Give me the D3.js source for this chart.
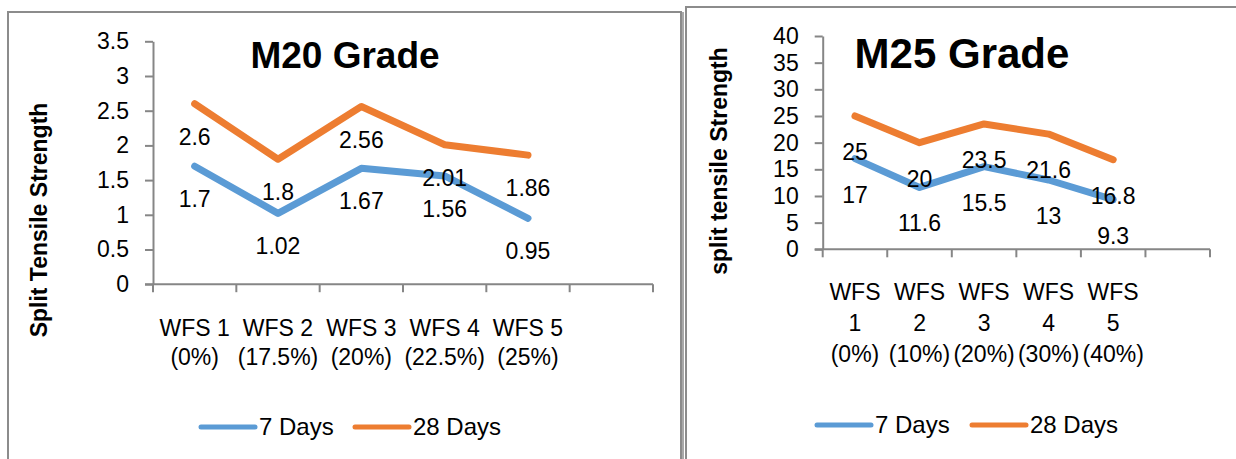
<!DOCTYPE html>
<html>
<head>
<meta charset="utf-8">
<script src="https://cdn.jsdelivr.net/npm/d3@7"></script>
<style>
  body { margin: 0; background: #ffffff; }
  text { font-family: "Liberation Sans", Arial, sans-serif; fill: #000; }
</style>
</head>
<body>
<script>
// data
var m20Labels = [["WFS 1", "(0%)"], ["WFS 2", "(17.5%)"], ["WFS 3", "(20%)"], ["WFS 4", "(22.5%)"], ["WFS 5", "(25%)"]];
var m20Days7 = [1.7, 1.02, 1.67, 1.56, 0.95];
var m20Days28 = [2.6, 1.8, 2.56, 2.01, 1.86];
var m20Ticks = [0, 0.5, 1, 1.5, 2, 2.5, 3, 3.5];

var m25Labels = [["WFS", "1", "(0%)"], ["WFS", "2", "(10%)"], ["WFS", "3", "(20%)"], ["WFS", "4", "(30%)"], ["WFS", "5", "(40%)"]];
var m25Days7 = [17, 11.6, 15.5, 13, 9.3];
var m25Days28 = [25, 20, 23.5, 21.6, 16.8];
var m25Ticks = [0, 5, 10, 15, 20, 25, 30, 35, 40];

var seriesNames = ["7 Days", "28 Days"];
var colors = ["#5b9bd5", "#ed7d31"];

var svg = d3.select("body").append("svg")
  .attr("width", 1236)
  .attr("height", 459);

//外框
svg.append("rect").attr("x", 8).attr("y", 12).attr("width", 673).attr("height", 470)
  .attr("fill", "#fff").attr("stroke", "#8c8c8c").attr("stroke-width", 2);
svg.append("rect").attr("x", 686).attr("y", 7).attr("width", 560).attr("height", 470)
  .attr("fill", "#fff").attr("stroke", "#8c8c8c").attr("stroke-width", 2);
svg.append("line").attr("x1", 683).attr("y1", 12).attr("x2", 683).attr("y2", 459)
  .attr("stroke", "#8c8c8c").attr("stroke-width", 1.5);

function drawChart(c) {
  var g = svg.append("g");
  var x = d3.scaleBand().domain(d3.range(6)).range([c.x0, c.x1]).padding(0);
  var y = d3.scaleLinear().domain([0, c.max]).range([c.yBot, c.yTop]);

  //y轴
  var yAxis = g.append("g")
    .attr("transform", "translate(" + c.x0 + ",0)")
    .call(d3.axisLeft(y).tickValues(c.ticks).tickSize(8).tickSizeOuter(0).tickPadding(16)
      .tickFormat(function (d) { return String(d); }));
  yAxis.select(".domain").attr("stroke", "#868686").attr("stroke-width", 2);
  yAxis.selectAll(".tick line").attr("stroke", "#868686").attr("stroke-width", 2);
  yAxis.selectAll(".tick text").style("font-size", "23px").style("font-family", "Liberation Sans, Arial, sans-serif").attr("fill", "#000");

  //x轴
  g.append("line").attr("x1", c.x0 - 8).attr("x2", c.x1).attr("y1", c.yBot).attr("y2", c.yBot)
    .attr("stroke", "#868686").attr("stroke-width", 2);
  var edges = d3.range(7).map(function (i) { return i < 6 ? x(i) : x(5) + x.bandwidth(); });
  g.selectAll(".xt").data(edges).enter().append("line")
    .attr("x1", function (d) { return d; }).attr("x2", function (d) { return d; })
    .attr("y1", c.yBot).attr("y2", c.yBot + 8)
    .attr("stroke", "#868686").attr("stroke-width", 2);

  //x标签
  c.labels.forEach(function (lines, i) {
    var t = g.append("text").attr("text-anchor", "middle").style("font-size", "23px");
    lines.forEach(function (s, j) {
      t.append("tspan").attr("x", x(i) + x.bandwidth() / 2)
        .attr("y", c.labelY + j * c.labelGap).text(s);
    });
  });

  //折线
  var line = d3.line()
    .x(function (d, i) { return x(i) + x.bandwidth() / 2; })
    .y(function (d) { return y(d); });
  [c.d7, c.d28].forEach(function (vals, k) {
    g.append("path").attr("d", line(vals)).attr("fill", "none")
      .attr("stroke", colors[k]).attr("stroke-width", 7)
      .attr("stroke-linecap", "round").attr("stroke-linejoin", "round");
  });
  //数据标签
  [c.d7, c.d28].forEach(function (vals) {
    g.selectAll(null).data(vals).enter().append("text")
      .attr("text-anchor", "middle").style("font-size", "23px")
      .attr("x", function (d, i) { return x(i) + x.bandwidth() / 2; })
      .attr("y", function (d) { return y(d) + c.offset; })
      .text(function (d) { return d; });
  });

  //标题
  g.append("text").attr("x", c.titleX).attr("y", 68).attr("text-anchor", "middle")
    .style("font-size", c.titleSize + "px").style("font-weight", "bold").text(c.title);
  g.append("text").attr("transform", "translate(" + c.yLabX + "," + c.yLabY + ") rotate(-90)")
    .attr("text-anchor", "middle").style("font-size", "23px").style("font-weight", "bold").text(c.yLabel);

  //图例
  seriesNames.forEach(function (n, k) {
    var lx = c.legX[k];
    g.append("line").attr("x1", lx).attr("x2", lx + 54).attr("y1", c.legY).attr("y2", c.legY)
      .attr("stroke", colors[k]).attr("stroke-width", 5).attr("stroke-linecap", "round");
    g.append("text").attr("x", lx + 58).attr("y", c.legY + 8).style("font-size", "24px").text(n);
  });
}

drawChart({
  x0: 153, x1: 653, yTop: 41.3, yBot: 284.2, max: 3.5, ticks: m20Ticks,
  labels: m20Labels, labelY: 336, labelGap: 29, d7: m20Days7, d28: m20Days28, offset: 41,
  title: "M20 Grade", titleX: 345, titleSize: 37,
  yLabel: "Split Tensile Strength", yLabX: 47, yLabY: 220,
  legX: [201, 355], legY: 427
});

drawChart({
  x0: 822.7, x1: 1210, yTop: 36, yBot: 249.3, max: 40, ticks: m25Ticks,
  labels: m25Labels, labelY: 300, labelGap: 31, d7: m25Days7, d28: m25Days28, offset: 44,
  title: "M25 Grade", titleX: 962, titleSize: 42,
  yLabel: "split tensile Strength", yLabX: 727, yLabY: 161,
  legX: [817, 972], legY: 425
});
</script>
</body>
</html>
